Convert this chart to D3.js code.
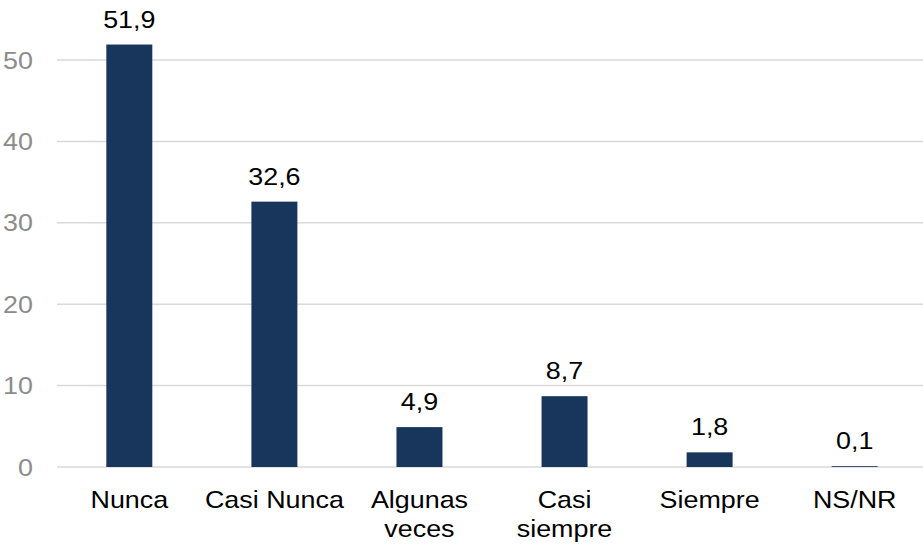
<!DOCTYPE html>
<html><head><meta charset="utf-8">
<script src="https://cdn.jsdelivr.net/npm/d3@7"></script>
<style>html,body{margin:0;padding:0;background:#fff;}</style>
</head><body>
<svg id="c" width="923" height="544"></svg>
<script>
const categories = [["Nunca"], ["Casi Nunca"], ["Algunas", "veces"], ["Casi", "siempre"], ["Siempre"], ["NS/NR"]];
const values = [51.9, 32.6, 4.9, 8.7, 1.8, 0.1];
const valueLabels = ["51,9", "32,6", "4,9", "8,7", "1,8", "0,1"];
const yTicks = [0, 10, 20, 30, 40, 50];

const svg = d3.select("#c");
const font = "'Liberation Sans', Arial, sans-serif";
const FS = 24, SX = 1.12;
const x = d3.scaleBand().domain(d3.range(values.length)).range([57, 927]).paddingInner(0.683).paddingOuter(0.34);
const y = d3.scaleLinear().domain([0, 50]).range([467, 60]);

function stretchedText(g, px, py, str, anchor, fill) {
  g.append("text")
    .attr("transform", `translate(${px},${py}) scale(${SX},1)`)
    .attr("text-anchor", anchor).attr("font-family", font).attr("font-size", FS).attr("fill", fill)
    .text(str);
}

// gridlines
svg.append("g").selectAll("line").data(yTicks).join("line")
  .attr("x1", 57).attr("x2", 923)
  .attr("y1", d => y(d)).attr("y2", d => y(d))
  .attr("stroke", "#d9d9d9").attr("stroke-width", 1.5);

// y axis labels
const ga = svg.append("g");
yTicks.forEach(t => stretchedText(ga, 33, y(t) + FS * 0.36, String(t), "end", "#8c8c8c"));

// bars
svg.append("g").selectAll("rect").data(values).join("rect")
  .attr("x", (d, i) => x(i)).attr("width", x.bandwidth())
  .attr("y", d => y(d)).attr("height", d => y(0) - y(d))
  .attr("fill", "#18365b");

// value labels
const gv = svg.append("g");
values.forEach((v, i) => stretchedText(gv, x(i) + x.bandwidth() / 2, y(v) - 17, valueLabels[i], "middle", "#000"));

// category labels
const gc = svg.append("g");
categories.forEach((lines, i) => lines.forEach((l, j) =>
  stretchedText(gc, x(i) + x.bandwidth() / 2, 508 + j * 29, l, "middle", "#000")));
</script>
</body></html>
